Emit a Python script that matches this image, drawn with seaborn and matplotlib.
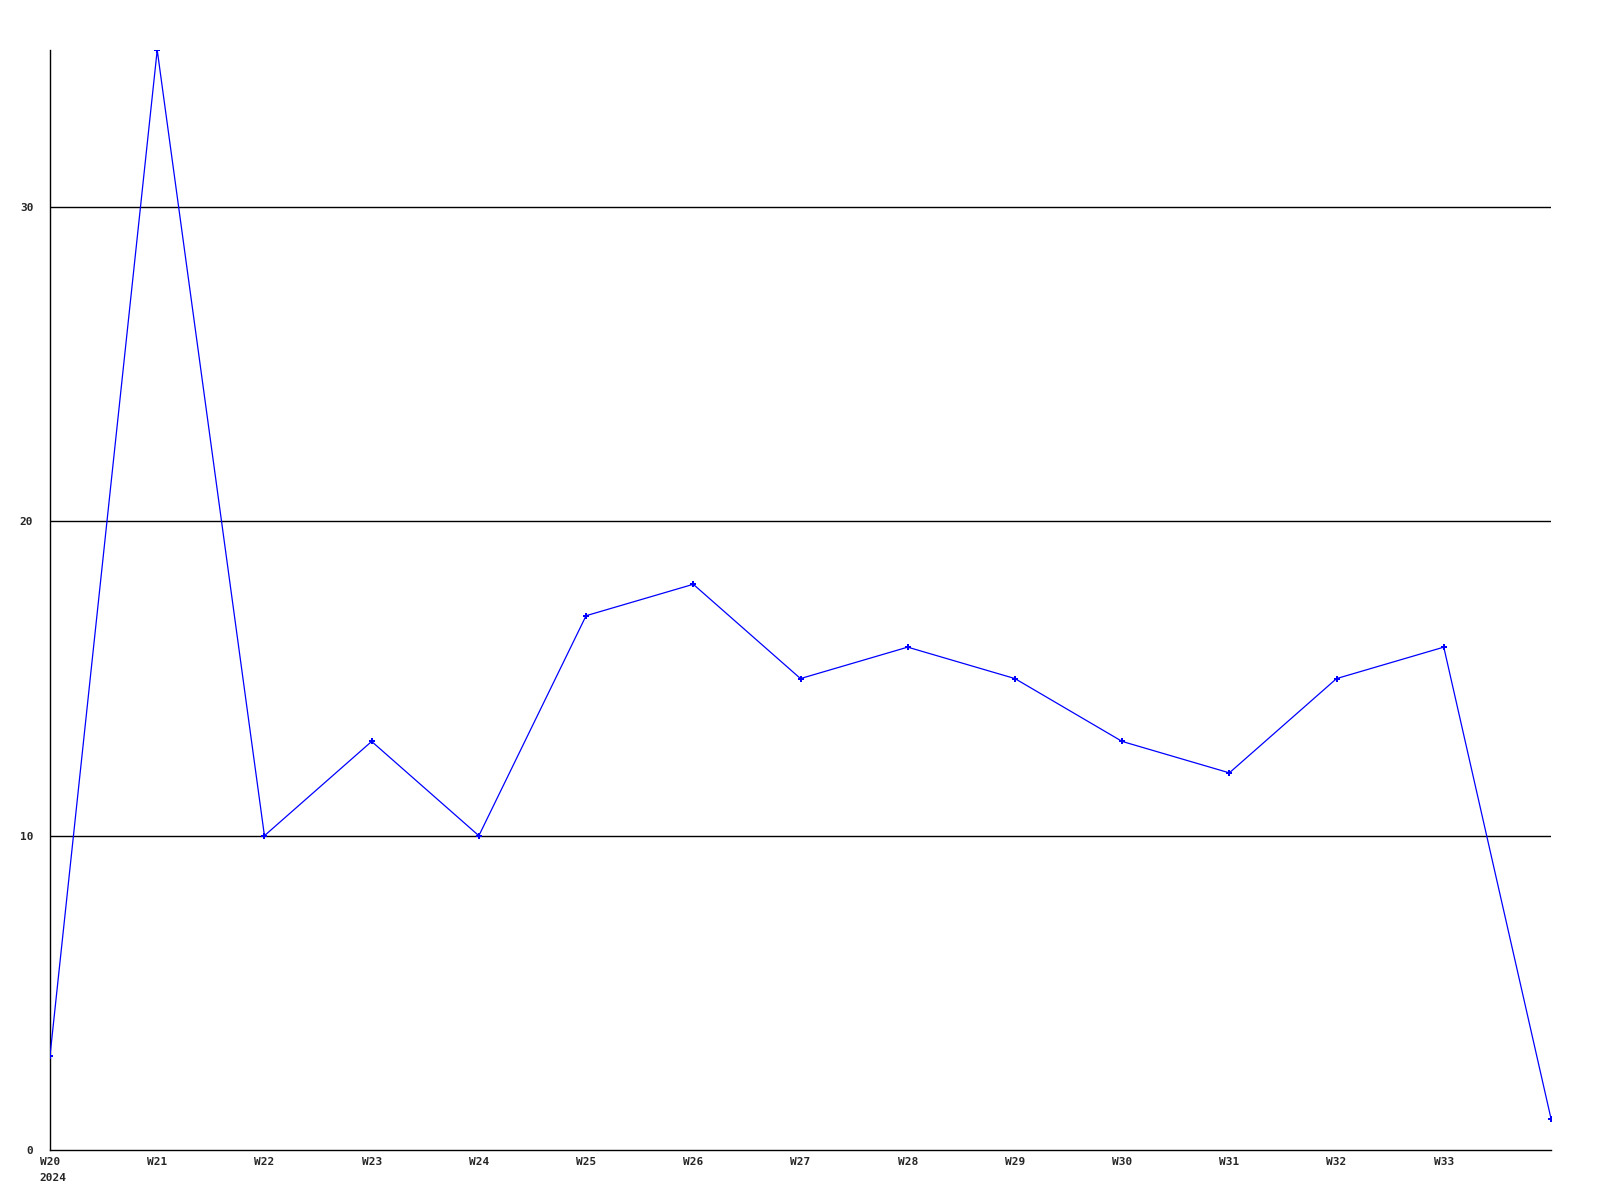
import matplotlib
matplotlib.use("Agg")
import matplotlib.pyplot as plt
import seaborn as sns
import pandas as pd

weeks = ["W20", "W21", "W22", "W23", "W24", "W25", "W26", "W27", "W28", "W29",
         "W30", "W31", "W32", "W33", "W34"]
values = [3, 35, 10, 13, 10, 17, 18, 15, 16, 15, 13, 12, 15, 16, 1]
tick_labels = ["W20", "W21", "W22", "W23", "W24", "W25", "W26", "W27", "W28",
               "W29", "W30", "W31", "W32", "W33"]
year_label = "2024"
y_ticks = [0, 10, 20, 30]

df = pd.DataFrame({"idx": range(len(weeks)), "week": weeks, "value": values})

sns.set_style("white")
plt.rcParams["font.family"] = ["DejaVu Sans Mono"]

fig = plt.figure(figsize=(16, 12), dpi=100)
ax = fig.add_axes([50 / 1600, 50 / 1200, 1501 / 1600, 1100 / 1200])

for yv in y_ticks[1:]:
    ax.axhline(yv, color="black", linewidth=1.0, zorder=1)

sns.lineplot(data=df, x="idx", y="value", ax=ax, color="#0000ff",
             linewidth=0.9, marker="P", markersize=4, markeredgewidth=0,
             zorder=3, clip_on=True)

ax.set_xlim(0, len(weeks) - 1)
ax.set_ylim(0, max(values))
ax.set_xticks(range(len(tick_labels)))
ax.set_xticklabels(tick_labels, fontsize=8, fontweight="bold")
ax.set_yticks(y_ticks)
ax.set_yticklabels([str(v) for v in y_ticks], fontsize=8, fontweight="bold")
ax.tick_params(axis="both", length=0)
ax.tick_params(axis="x", pad=5)
ax.tick_params(axis="y", pad=12)
ax.set_xlabel("")
ax.set_ylabel("")

for side in ["top", "right"]:
    ax.spines[side].set_visible(False)
for side in ["left", "bottom"]:
    ax.spines[side].set_color("black")
    ax.spines[side].set_linewidth(1.0)

ax.annotate(year_label, xy=(0, 0), xycoords=("data", "axes fraction"),
            xytext=(-7.5, -16.5), textcoords="offset points",
            ha="left", va="top", fontsize=8, fontweight="bold")

fig.savefig("out.png", dpi=100, facecolor="white")
